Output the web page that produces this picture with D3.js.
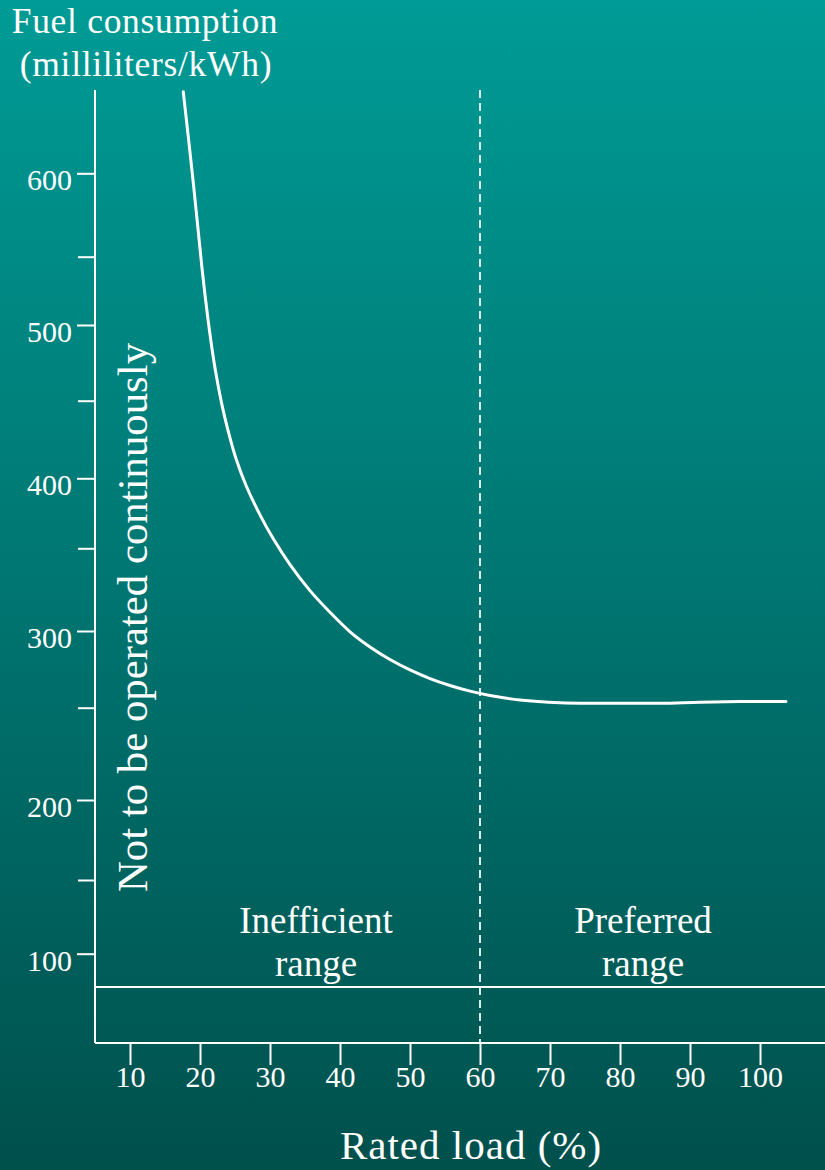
<!DOCTYPE html>
<html>
<head>
<meta charset="utf-8">
<script src="https://cdn.jsdelivr.net/npm/d3@7"></script>
<style>
  html, body { margin: 0; padding: 0; background: #00524e; }
  svg { display: block; }
  text { font-family: "Liberation Serif", "Times New Roman", serif; fill: #ffffff; }
</style>
</head>
<body>
<svg id="chart" width="825" height="1170"></svg>
<script>
// ---- data ----
const loadPct = [17.61, 19.0, 20.31, 20.86, 21.47, 22.19, 23.09, 23.99, 25.21, 26.67, 28.57, 30.47, 32.86, 35.71, 38.57, 41.43, 44.29, 47.14, 50.0, 52.86, 55.71, 58.57, 61.43, 65.71, 71.43, 77.14, 85.71, 91.43, 97.14, 103.71];
const fuelMl  = [648.9, 596.0, 540.3, 515.9, 492.3, 470.3, 448.3, 431.1, 411.8, 393.8, 373.9, 356.8, 340.1, 324.4, 311.3, 299.5, 289.6, 281.4, 274.6, 269.0, 264.5, 260.8, 258.0, 255.0, 253.2, 252.9, 252.9, 253.6, 254.0, 254.0];
const xTicks = [10, 20, 30, 40, 50, 60, 70, 80, 90, 100];
const yMajorTicks = [100, 200, 300, 400, 500, 600];
const yMinorTicks = [150, 250, 350, 450, 550];
const dividerLoad = 60;
const separatorFuel = 77.4;
const texts = {
  yTitle1: "Fuel consumption",
  yTitle2: "(milliliters/kWh)",
  xTitle: "Rated load (%)",
  vertical: "Not to be operated continuously",
  left1: "Inefficient", left2: "range",
  right1: "Preferred", right2: "range"
};

// ---- scales (the hand-drawn axis has uneven spacing, so use a polylinear scale) ----
const yDomain = [100, 150, 200, 250, 300, 350, 400, 450, 500, 550, 600];
const yRange  = [953.7, 880, 800, 707.7, 631, 548.3, 478.3, 400.7, 325, 256.7, 173.3];
const y = d3.scaleLinear().domain(yDomain).range(yRange);
const x = d3.scaleLinear().domain([10, 100]).range([130, 760]);

const xAxisMin = 5, xAxisMax = 109.3;
const yAxisMin = 39.4, yAxisMax = 650;

const FONT = '"Liberation Serif", "Times New Roman", serif';
const svg = d3.select("#chart");

// background gradient
const defs = svg.append("defs");
const grad = defs.append("linearGradient").attr("id", "bg").attr("x1", 0).attr("y1", 0).attr("x2", 0).attr("y2", 1);
grad.append("stop").attr("offset", "0%").attr("stop-color", "#009b96");
grad.append("stop").attr("offset", "100%").attr("stop-color", "#00504c");
svg.append("rect").attr("width", 825).attr("height", 1170).attr("fill", "url(#bg)");

const white = "#ffffff";

// y axis
const yAxisG = svg.append("g").attr("transform", `translate(${x(xAxisMin)},0)`);
yAxisG.call(d3.axisLeft(y).tickValues(yMajorTicks).tickSize(18).tickPadding(5).tickFormat(d3.format("d")));
yAxisG.select(".domain").remove();
yAxisG.selectAll(".tick line").attr("stroke", white).attr("stroke-width", 2);
yAxisG.selectAll(".tick text")
  .attr("fill", white).attr("font-size", 30).attr("font-family", FONT)
  .attr("y", 7);
const yMinorG = svg.append("g").attr("transform", `translate(${x(xAxisMin)},0)`);
yMinorG.call(d3.axisLeft(y).tickValues(yMinorTicks).tickSize(17).tickFormat(""));
yMinorG.select(".domain").remove();
yMinorG.selectAll(".tick line").attr("stroke", white).attr("stroke-width", 2);

svg.append("line")
  .attr("x1", x(xAxisMin)).attr("x2", x(xAxisMin))
  .attr("y1", y(yAxisMax)).attr("y2", y(yAxisMin))
  .attr("stroke", white).attr("stroke-width", 2);

// x axis
const xAxisG = svg.append("g").attr("transform", `translate(0,${y(yAxisMin)})`);
xAxisG.call(d3.axisBottom(x).tickValues(xTicks).tickSize(22).tickPadding(1).tickFormat(d3.format("d")));
xAxisG.select(".domain").remove();
xAxisG.selectAll(".tick line").attr("stroke", white).attr("stroke-width", 2);
xAxisG.selectAll(".tick text")
  .attr("fill", white).attr("font-size", 30).attr("font-family", FONT);

svg.append("line")
  .attr("x1", x(xAxisMin)).attr("x2", x(xAxisMax))
  .attr("y1", y(yAxisMin)).attr("y2", y(yAxisMin))
  .attr("stroke", white).attr("stroke-width", 2);

// separator line
svg.append("line")
  .attr("x1", x(xAxisMin)).attr("x2", x(xAxisMax))
  .attr("y1", y(separatorFuel)).attr("y2", y(separatorFuel))
  .attr("stroke", white).attr("stroke-width", 2);

// dashed divider
svg.append("line")
  .attr("x1", x(dividerLoad)).attr("x2", x(dividerLoad))
  .attr("y1", y(yAxisMax)).attr("y2", y(yAxisMin))
  .attr("stroke", "#d8eeec").attr("stroke-width", 2)
  .attr("stroke-dasharray", "8,5");

// curve
const pts = loadPct.map((d, i) => [d, fuelMl[i]]);
const line = d3.line().x(d => x(d[0])).y(d => y(d[1])).curve(d3.curveCatmullRom.alpha(0.5));
svg.append("path").datum(pts)
  .attr("d", line)
  .attr("fill", "none").attr("stroke", white).attr("stroke-width", 3)
  .attr("stroke-linejoin", "round").attr("stroke-linecap", "round");

// titles
svg.append("text").attr("x", 145).attr("y", 33).attr("text-anchor", "middle").attr("font-size", 35.5)
  .attr("letter-spacing", 0.7).text(texts.yTitle1);
svg.append("text").attr("x", 146).attr("y", 76).attr("text-anchor", "middle").attr("font-size", 35.5)
  .attr("letter-spacing", 0.7).text(texts.yTitle2);
svg.append("text").attr("x", 471).attr("y", 1159).attr("text-anchor", "middle").attr("font-size", 41)
  .attr("letter-spacing", 1).text(texts.xTitle);

// vertical label
svg.append("text")
  .attr("transform", "translate(147,617.5) rotate(-90)")
  .attr("text-anchor", "middle").attr("font-size", 42.8)
  .text(texts.vertical);

// range labels
svg.append("text").attr("x", 316).attr("y", 933).attr("text-anchor", "middle").attr("font-size", 37).text(texts.left1);
svg.append("text").attr("x", 316).attr("y", 976).attr("text-anchor", "middle").attr("font-size", 37).text(texts.left2);
svg.append("text").attr("x", 643).attr("y", 933).attr("text-anchor", "middle").attr("font-size", 37).text(texts.right1);
svg.append("text").attr("x", 643).attr("y", 976).attr("text-anchor", "middle").attr("font-size", 37).text(texts.right2);
</script>
</body>
</html>
